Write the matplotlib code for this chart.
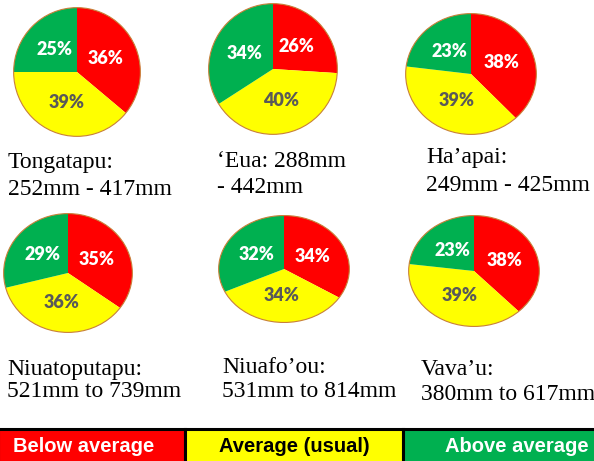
import numpy as np
import matplotlib.pyplot as plt
from matplotlib.patches import Circle

regions = ["Tongatapu", "‘Eua", "Ha’apai", "Niuatoputapu", "Niuafo’ou", "Vava’u"]
below = [36, 26, 38, 35, 34, 38]
average = [39, 40, 39, 36, 34, 39]
above = [25, 34, 23, 29, 32, 23]
captions = [
    ("Tongatapu:", "252mm - 417mm"),
    ("‘Eua: 288mm", "- 442mm"),
    ("Ha’apai:", "249mm - 425mm"),
    ("Niuatoputapu:", "521mm to 739mm"),
    ("Niuafo’ou:", "531mm to 814mm"),
    ("Vava’u:", "380mm to 617mm"),
]
legend_labels = ["Below average", "Average (usual)", "Above average"]
legend_widths = [186, 216, 192]

red, yellow, green = "#FF0000", "#FFFF00", "#00B050"
colors = [red, yellow, green]
text_colors = ["white", "#595959", "white"]

W, H = 594, 461
fig = plt.figure(figsize=(W / 100, H / 100), dpi=100)

# pie centre x, centre y (pixels from top), radius x, radius y
pie_geom = [(77, 72, 64, 65), (273, 69, 65, 66), (471, 74, 66, 61),
            (68, 273, 65, 60), (284, 269, 66, 54), (474, 271, 66, 56)]
# caption left x, baseline of line 1, baseline of line 2
cap_geom = [(8, 168, 195), (217, 167, 193), (426, 163, 191),
            (7, 375, 397), (222, 373, 397), (421, 375, 400)]

for i, name in enumerate(regions):
    cx, cy, rx, ry = pie_geom[i]
    ax = fig.add_axes([(cx - rx) / W, (H - cy - ry) / H, 2 * rx / W, 2 * ry / H])
    vals = [below[i], average[i], above[i]]
    wedges, _ = ax.pie(vals, colors=colors, startangle=90, counterclock=False,
                       radius=1, wedgeprops=dict(linewidth=0))
    for w, v, tc in zip(wedges, vals, text_colors):
        ang = np.deg2rad((w.theta1 + w.theta2) / 2)
        ax.text(0.5 * np.cos(ang), 0.5 * np.sin(ang), f"{v}%", ha="center",
                va="center", color=tc, fontsize=13, fontweight="heavy",
                family="Lato")
    ax.add_patch(Circle((0, 0), 1, fill=False, ec="#c8803a", lw=0.8))
    ax.set_aspect("auto")
    ax.set_xlim(-1.01, 1.01)
    ax.set_ylim(-1.01, 1.01)
    ax.axis("off")

    x0, b1, b2 = cap_geom[i]
    for line, b in zip(captions[i], (b1, b2)):
        fig.text(x0 / W, 1 - b / H, line, ha="left", va="baseline",
                 fontsize=17, family="Liberation Serif", color="black")

# legend bar (outer left/right edges fall outside the axes)
lax = fig.add_axes([0, 0, 1, 35 / H])
lefts = [0, legend_widths[0], legend_widths[0] + legend_widths[1]]
lax.barh([-0.3] * 3, legend_widths, left=lefts, height=1.3, color=colors,
         edgecolor="black", linewidth=2.2, align="edge")
lax.set_xlim(2, sum(legend_widths) - 2)
lax.set_ylim(0, 1.1)
lax.axis("off")
text_x = [85, 294, 515]
leg_colors = ["white", "black", "white"]
for lbl, tx, tc in zip(legend_labels, text_x, leg_colors):
    lax.text(tx, 0.47, lbl, ha="center", va="center", color=tc, fontsize=14.5,
             fontweight="bold", family="Liberation Sans")

fig.savefig("out.png", dpi=100)
